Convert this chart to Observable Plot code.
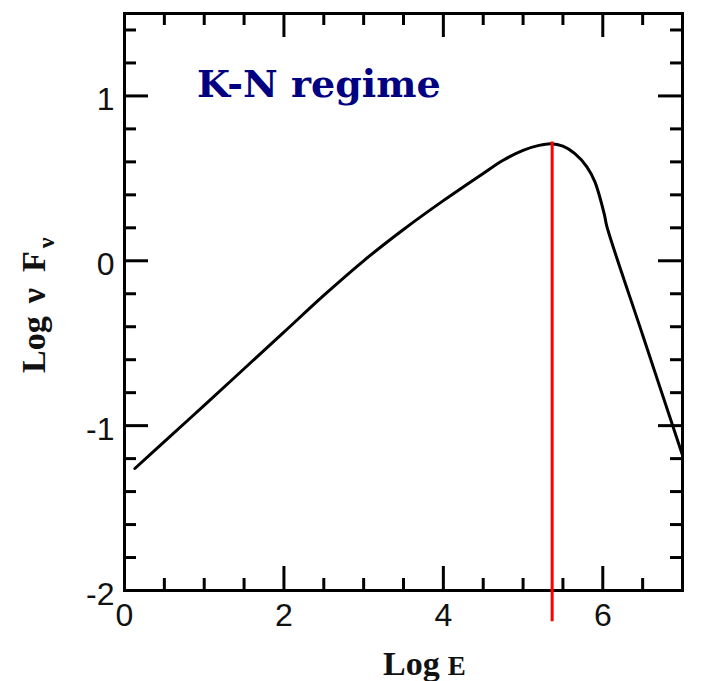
<!DOCTYPE html>
<html><head><meta charset="utf-8">
<script src="https://cdn.jsdelivr.net/npm/d3@7"></script>
<script src="https://cdn.jsdelivr.net/npm/@observablehq/plot@0.6"></script>
<style>html,body{margin:0;padding:0;background:#fff}</style>
</head><body><div id="chart"></div>
<script>
// ---- data ----
const logE     = [0.13, 0.5, 1.0, 1.5, 2.0, 2.5, 3.0, 3.5, 4.0, 4.5, 4.75, 5.0, 5.2, 5.35, 5.5, 5.65, 5.8, 5.9, 6.02, 6.05, 6.5, 7.0];
const logNuFnu = [-1.26, -1.097, -0.877, -0.655, -0.433, -0.21, 0.0, 0.19, 0.365, 0.53, 0.61, 0.67, 0.70, 0.71, 0.695, 0.65, 0.57, 0.48, 0.28, 0.21, -0.45, -1.18];
const peakLogE = 5.365;
const peakRuleTop = 0.72;
const peakRuleBottom = -2.19;
const xMajorTicks = [0, 2, 4, 6];
const xMinorTicks = [0.5, 1, 1.5, 2.5, 3, 3.5, 4.5, 5, 5.5, 6.5];
const xTickLabels = ["0", "2", "4", "6"];
const yMajorTicks = [-2, -1, 0, 1];
const yMinorTicks = [-1.8, -1.6, -1.4, -1.2, -0.8, -0.6, -0.4, -0.2, 0.2, 0.4, 0.6, 0.8, 1.2, 1.4];
const yTickLabels = ["-2", "-1", "0", "1"];
const titleText = "K-N regime";
const xLabelMain = "Log", xLabelSub = "E";
const yLabelParts = ["Log", "ν", "F", "ν"];

// ---- layout ----
const W = 706, H = 681, mt = 13, mr = 24, mb = 91, ml = 124;
const frameW = W - ml - mr, frameH = H - mt - mb;
const minorLen = 12, majorLen = 24, sw = 3;

const curve = logE.map((x, i) => ({x, y: logNuFnu[i]}));

const plot = Plot.plot({
  width: W, height: H,
  marginTop: mt, marginRight: mr, marginBottom: mb, marginLeft: ml,
  x: {domain: [0, 7], axis: null},
  y: {domain: [-2, 1.5], axis: null},
  style: {background: "#fff", color: "#000"},
  marks: [
    // inward ticks, bottom & top
    Plot.ruleX(xMinorTicks, {x: d => d, insetTop: frameH - minorLen, strokeWidth: sw, stroke: "#000"}),
    Plot.ruleX(xMajorTicks, {x: d => d, insetTop: frameH - majorLen, strokeWidth: sw, stroke: "#000"}),
    Plot.ruleX(xMinorTicks, {x: d => d, insetBottom: frameH - minorLen, strokeWidth: sw, stroke: "#000"}),
    Plot.ruleX(xMajorTicks, {x: d => d, insetBottom: frameH - majorLen, strokeWidth: sw, stroke: "#000"}),
    // inward ticks, left & right
    Plot.ruleY(yMinorTicks, {y: d => d, insetRight: frameW - minorLen, strokeWidth: sw, stroke: "#000"}),
    Plot.ruleY(yMajorTicks, {y: d => d, insetRight: frameW - majorLen, strokeWidth: sw, stroke: "#000"}),
    Plot.ruleY(yMinorTicks, {y: d => d, insetLeft: frameW - minorLen, strokeWidth: sw, stroke: "#000"}),
    Plot.ruleY(yMajorTicks, {y: d => d, insetLeft: frameW - majorLen, strokeWidth: sw, stroke: "#000"}),
    Plot.frame({stroke: "#000", strokeWidth: sw}),
    // tick labels
    Plot.text(xMajorTicks, {x: d => d, text: (d, i) => xTickLabels[i], frameAnchor: "bottom", dy: 35,
      fontSize: 32, fontFamily: "Liberation Sans", fill: "#111"}),
    Plot.text(yMajorTicks, {y: d => d, text: (d, i) => yTickLabels[i], frameAnchor: "left", dx: -10, dy: 4,
      textAnchor: "end", fontSize: 32, fontFamily: "Liberation Sans", fill: "#111"}),
    // spectrum
    Plot.line(curve, {x: "x", y: "y", stroke: "#000", strokeWidth: 3, curve: "catmull-rom"}),
    // peak marker
    Plot.ruleX([peakLogE], {x: d => d, y1: peakRuleTop, y2: peakRuleBottom, stroke: "#ff0000", strokeWidth: 3, clip: false})
  ]
});

const svg = d3.select(plot);
svg.attr("overflow", "visible");
// title
svg.append("text")
  .attr("x", ml + 73).attr("y", mt + 84)
  .attr("text-anchor", "start")
  .attr("font-family", "DejaVu Serif").attr("font-weight", "bold").attr("font-size", 38)
  .attr("fill", "#000080")
  .text(titleText);
// x axis label
const xl = svg.append("text")
  .attr("x", ml + 259).attr("y", H - 6)
  .attr("text-anchor", "start")
  .attr("font-family", "Liberation Serif").attr("font-weight", "bold").attr("fill", "#111");
xl.append("tspan").attr("font-size", 34).text(xLabelMain);
xl.append("tspan").attr("font-size", 27).attr("dx", 8).text(xLabelSub);
// y axis label
const yl = svg.append("text")
  .attr("transform", `translate(45,${mt + 360}) rotate(-90)`)
  .attr("text-anchor", "start")
  .attr("font-family", "Liberation Serif").attr("font-weight", "bold").attr("fill", "#111");
yl.append("tspan").attr("font-size", 34).text(yLabelParts[0]);
yl.append("tspan").attr("font-size", 34).attr("dx", 13).text(yLabelParts[1]);
yl.append("tspan").attr("font-size", 34).attr("dx", 16).text(yLabelParts[2]);
yl.append("tspan").attr("font-size", 24).attr("dx", 3).attr("dy", 9).text(yLabelParts[3]);

document.getElementById("chart").appendChild(plot);
</script>
</body></html>
